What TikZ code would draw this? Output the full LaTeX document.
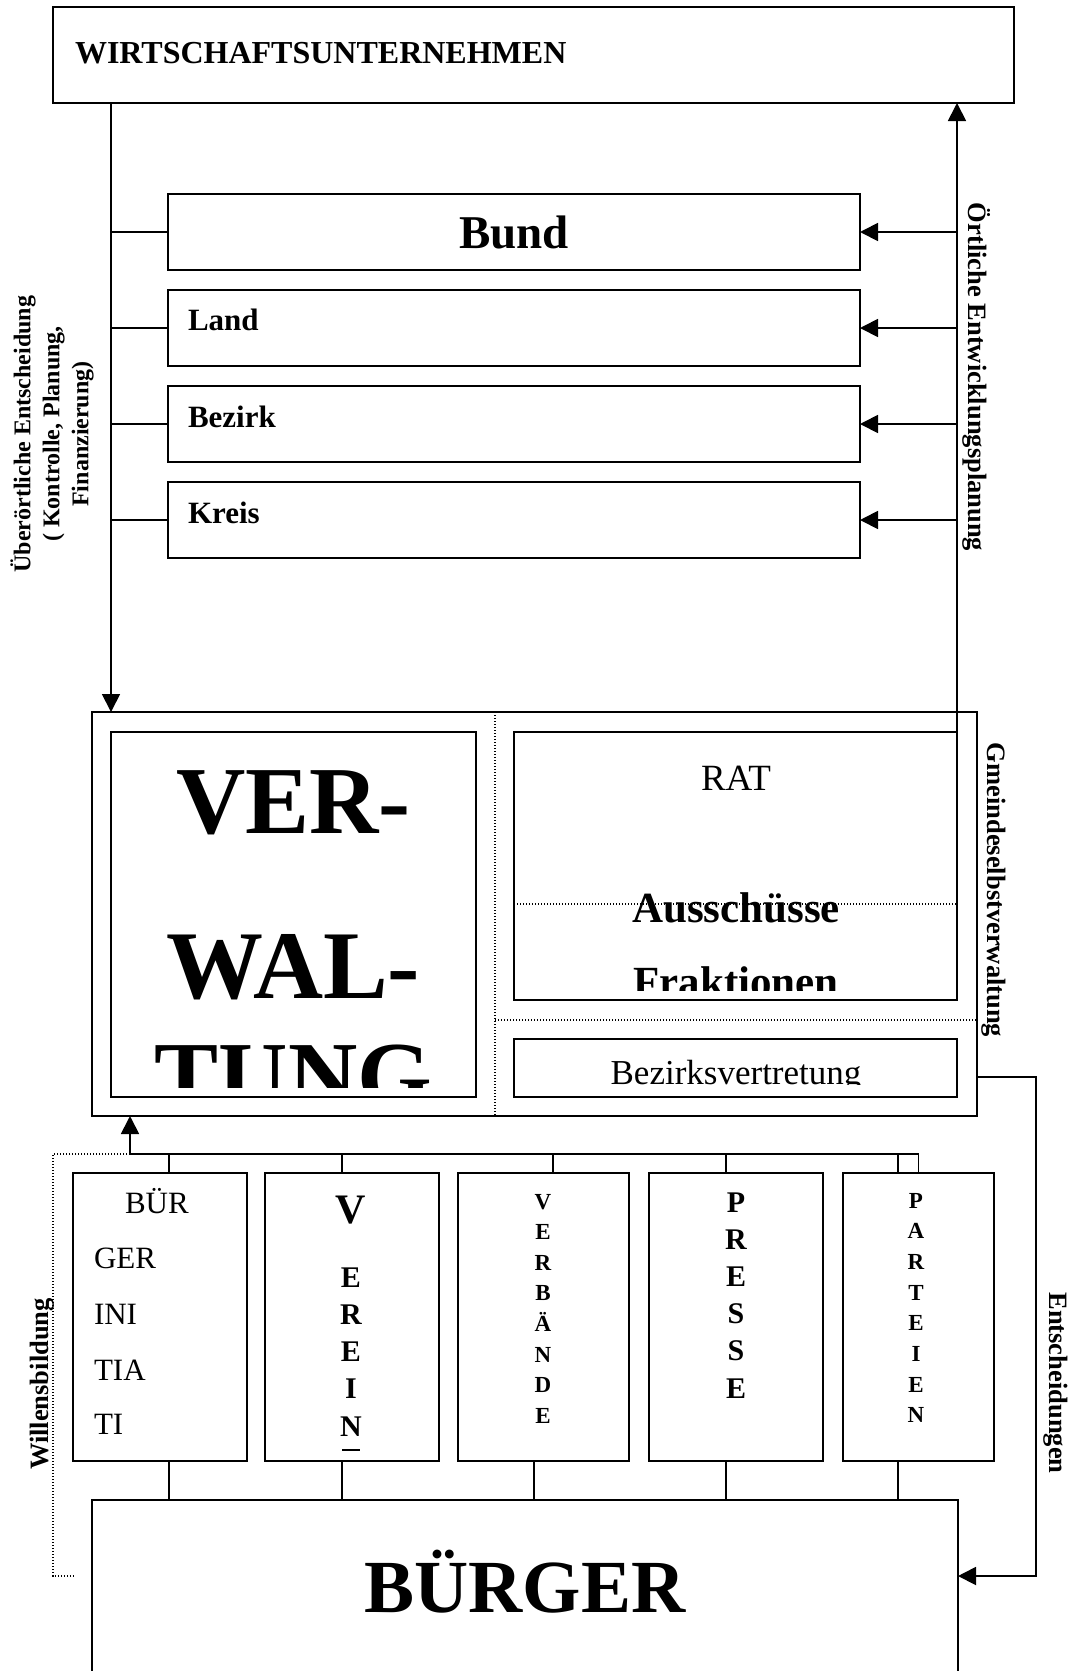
\documentclass[tikz,border=0pt]{standalone}
\usepackage{fontspec}
\setmainfont{Liberation Serif}
\usetikzlibrary{arrows.meta}
\newcommand{\fsz}[1]{\fontsize{#1}{#1}\selectfont}
\begin{document}
\begin{tikzpicture}[x=1pt,y=-1pt,
  box/.style={draw, line width=1.8pt, inner sep=0pt, outer sep=0pt, anchor=north west},
  conn/.style={line width=1.8pt},
  arr/.style={line width=1.8pt, -{Triangle[length=18pt,width=18pt]}},
  dots/.style={line width=1.2pt, dash pattern=on 1.2pt off 1.8pt},
  txt/.style={inner sep=0pt, outer sep=0pt},
]
\useasboundingbox (0,0) rectangle (1069,1671);
\clip (0,0) rectangle (1069,1671);

% ---------- boxes ----------
\node[box, minimum width=961pt, minimum height=96pt] (wu) at (53,7) {};
\node[box, minimum width=692pt, minimum height=76pt] (bund) at (168,194) {};
\node[box, minimum width=692pt, minimum height=76pt] (land) at (168,290) {};
\node[box, minimum width=692pt, minimum height=76pt] (bez) at (168,386) {};
\node[box, minimum width=692pt, minimum height=76pt] (kreis) at (168,482) {};
\node[box, minimum width=885pt, minimum height=404pt] (gem) at (92,712) {};
\node[box, minimum width=365pt, minimum height=365pt] (verw) at (111,732) {};
\node[box, minimum width=443pt, minimum height=268pt] (rat) at (514,732) {};
\node[box, minimum width=443pt, minimum height=58pt] (bzv) at (514,1039) {};
\node[box, minimum width=174pt, minimum height=288pt] (bi) at (73,1173) {};
\node[box, minimum width=174pt, minimum height=288pt] (ver) at (265,1173) {};
\node[box, minimum width=171pt, minimum height=288pt] (vb) at (458,1173) {};
\node[box, minimum width=174pt, minimum height=288pt] (pr) at (649,1173) {};
\node[box, minimum width=151pt, minimum height=288pt] (pa) at (843,1173) {};
\node[txt, anchor=north west, minimum width=866pt, minimum height=250pt] (bg) at (92,1500) {};
\draw[conn] (bg.south west) -- (bg.north west) -- (bg.north east) -- (bg.south east);

% ---------- helper coordinates ----------
\coordinate (dv) at (495,0);
\coordinate (dh) at (0,1020);
\coordinate (dr) at (0,904);
\coordinate (bar) at (0,1154);
\coordinate (upx) at (130,0);
\coordinate (t1) at (169,0);
\coordinate (t2) at (342,0);
\coordinate (t3) at (553,0);
\coordinate (t3b) at (534,0);
\coordinate (t4) at (726,0);
\coordinate (t5) at (898,0);
\coordinate (wx) at (53,0);
\coordinate (we) at (74,0);
\coordinate (ab) at (0,1576);
\coordinate (ex) at (1036,0);
\coordinate (ey) at (0,1077);

% ---------- connectors ----------
\draw[arr] (wu.south -| verw.west) -- (gem.north -| verw.west);
\draw[arr] (rat.north east) -- (rat.north east |- wu.south);
\foreach \b in {bund,land,bez,kreis} {
  \draw[conn] (\b.west -| verw.west) -- (\b.west);
  \draw[arr] (\b.east -| rat.east) -- (\b.east);
}
\draw[dots] (gem.north -| dv) -- (gem.south -| dv);
\draw[dots] (dh -| dv) -- (dh -| gem.east);
\draw[dots] (dr -| rat.west) -- (dr -| rat.east);

\draw[arr] (bar -| upx) -- (gem.south -| upx);
\draw[conn] (bar -| upx) -- (bar -| pa.north) -- (pa.north);
\draw[conn] (bar -| t1) -- (bi.north -| t1);
\draw[conn] (bar -| t2) -- (ver.north -| t2);
\draw[conn] (bar -| t3) -- (vb.north -| t3);
\draw[conn] (bar -| t4) -- (pr.north -| t4);
\draw[conn] (bar -| t5) -- (pa.north -| t5);
\draw[conn] (bi.south -| t1) -- (bg.north -| t1);
\draw[conn] (ver.south -| t2) -- (bg.north -| t2);
\draw[conn] (vb.south -| t3b) -- (bg.north -| t3b);
\draw[conn] (pr.south -| t4) -- (bg.north -| t4);
\draw[conn] (pa.south -| t5) -- (bg.north -| t5);

\draw[dots] (bar -| upx) -- (bar -| wx) -- (ab -| wx) -- (ab -| we);
\draw[arr] (ey -| gem.east) -- (ey -| ex) -- (ab -| ex) -- (ab -| bg.east);

% ---------- texts ----------
\node[txt, anchor=base west, font=\bfseries\fsz{32}] (twu) at (75,63) {WIRTSCHAFTSUNTERNEHMEN};
\node[txt, anchor=base, font=\bfseries\fsz{47}] (tbund) at (514,248) {Bund};
\node[txt, anchor=base west, font=\bfseries\fsz{31}] (tland) at (188,330) {Land};
\node[txt, anchor=base west, font=\bfseries\fsz{31}] (tbez) at (188,427) {Bezirk};
\node[txt, anchor=base west, font=\bfseries\fsz{31}] (tkreis) at (188,523) {Kreis};

\node[txt, rotate=90, align=center, font={\bfseries\fontsize{24}{29}\selectfont}] (lab1) at (52,434)
  {Überörtliche Entscheidung\\( Kontrolle, Planung,\\Finanzierung)};
\node[txt, rotate=-90, anchor=base, font=\bfseries\fsz{26.5}] (lab2) at (968,377) {Örtliche Entwicklungsplanung};
\node[txt, rotate=-90, anchor=base, font=\bfseries\fsz{26.5}] (lab3) at (987,890) {Gmeindeselbstverwaltung};
\node[txt, rotate=-90, font=\bfseries\fsz{26.5}] (lab4) at (1056,1383) {Entscheidungen};
\node[txt, rotate=90, font=\bfseries\fsz{26.5}] (lab5) at (42,1384) {Willensbildung};

\begin{scope}
  \clip (verw.north west) rectangle ([yshift=10pt]verw.south east);
  \node[txt, anchor=base, font=\bfseries\fsz{96}] (v1) at (293.5,833) {VER-};
  \node[txt, anchor=base, font=\bfseries\fsz{97}] (v2) at (293.5,998) {WAL-};
  \node[txt, anchor=base, font=\bfseries\fsz{96}] (v3) at (293.5,1108) {TUNG};
\end{scope}

\node[txt, anchor=base, font=\fsz{37}] (trat) at (736,790) {RAT};
\begin{scope}
  \clip (rat.north west) rectangle ([yshift=10pt]rat.south east);
  \node[txt, anchor=base, font=\bfseries\fsz{43}] (taus) at (736,922) {Ausschüsse};
  \node[txt, anchor=base, font=\bfseries\fsz{43}] (tfrak) at (736,996) {Fraktionen};
\end{scope}
\begin{scope}
  \clip (bzv.north west) rectangle ([yshift=13pt]bzv.south east);
  \node[txt, anchor=base, font=\fsz{35}] (tbzv) at (736,1084) {Bezirksvertretung};
\end{scope}

\node[txt, anchor=base, font=\bfseries\fsz{75}] (tbg) at (525,1612) {BÜRGER};

\node[txt, anchor=base west, font=\fsz{31}] (bi1) at (125,1213) {BÜR};
\node[txt, anchor=base west, font=\fsz{31}] (bi2) at (94,1268) {GER};
\node[txt, anchor=base west, font=\fsz{31}] (bi3) at (94,1324) {INI};
\node[txt, anchor=base west, font=\fsz{31}] (bi4) at (94,1380) {TIA};
\node[txt, anchor=base west, font=\fsz{31}] (bi5) at (94,1434) {TI};

\node[txt, anchor=base, font=\bfseries\fsz{42}] (ve0) at (351,1223) {V};
\foreach \l [count=\i] in {E,R,E,I,N}
  \node[txt, anchor=base, font=\bfseries\fsz{30}] (ve\i) at (351,{1287+37.3*(\i-1)}) {\l};
\draw[line width=2pt] (342,1450) -- (360,1450);

\foreach \l [count=\i] in {V,E,R,B,Ä,N,D,E}
  \node[txt, anchor=base, font=\bfseries\fsz{23}] (vb\i) at (543,{1209+30.6*(\i-1)}) {\l};
\foreach \l [count=\i] in {P,R,E,S,S,E}
  \node[txt, anchor=base, font=\bfseries\fsz{30}] (pr\i) at (736,{1212+37.2*(\i-1)}) {\l};
\foreach \l [count=\i] in {P,A,R,T,E,I,E,N}
  \node[txt, anchor=base, font=\bfseries\fsz{23}] (pa\i) at (916,{1208+30.7*(\i-1)}) {\l};
\end{tikzpicture}
\end{document}
